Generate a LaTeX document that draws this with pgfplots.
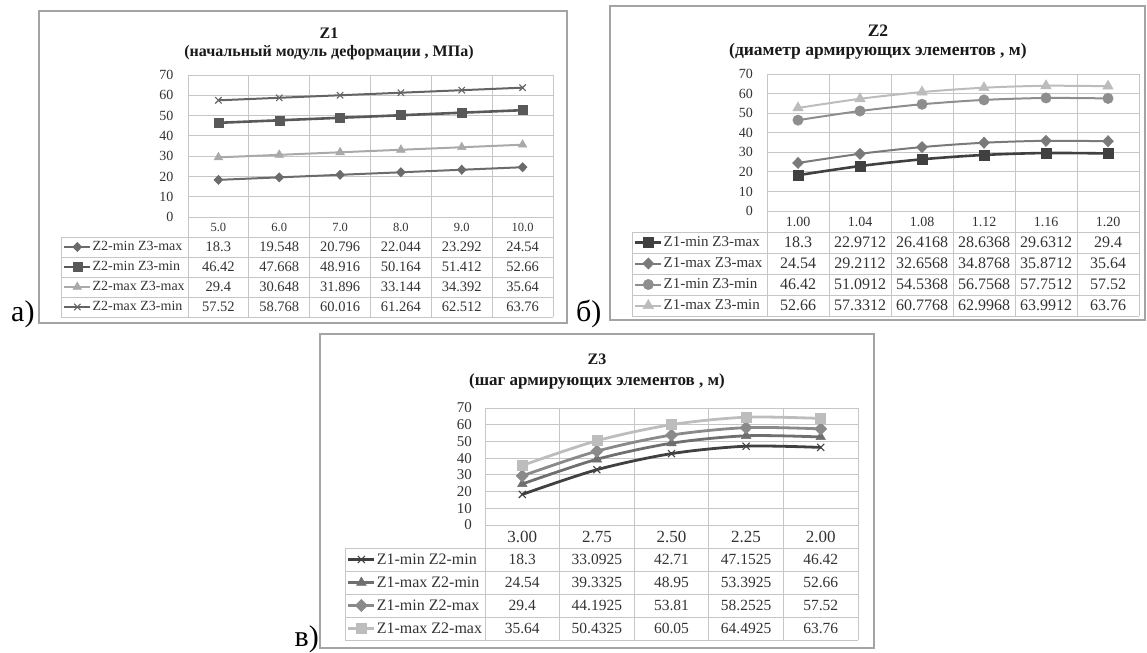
\documentclass[border=0pt]{standalone}
\usepackage{pgfplots}
\pgfplotsset{compat=1.18}
\usepackage{fontspec}
\setmainfont{Liberation Serif}
\definecolor{gridc}{HTML}{C6C6C6}
\definecolor{framec}{HTML}{A4A4A4}
\definecolor{txt}{HTML}{333333}
\definecolor{a1}{HTML}{6B6B6B}
\definecolor{a2}{HTML}{595959}
\definecolor{a3}{HTML}{A9A9A9}
\definecolor{a4}{HTML}{646464}
\definecolor{b1}{HTML}{404040}
\definecolor{b2}{HTML}{7A7A7A}
\definecolor{b3}{HTML}{8E8E8E}
\definecolor{b4}{HTML}{BCBCBC}
\definecolor{c1}{HTML}{404040}
\definecolor{c2}{HTML}{6F6F6F}
\definecolor{c3}{HTML}{8A8A8A}
\definecolor{c4}{HTML}{BDBDBD}
\newcommand{\fs}[1]{\fontsize{#1}{#1}\selectfont}
\pgfplotsset{
  legend image code/.code={\draw[mark repeat=2,mark phase=2,#1] plot coordinates {(0pt,0pt) (13pt,0pt) (26pt,0pt)};},
  tbl/.style={scale only axis, clip=false, ymin=0, ymax=70, ytick={0,10,...,70},
    ymajorgrids, xminorgrids,
    grid style={gridc, line width=0.8pt},
    minor grid style={gridc, line width=0.8pt},
    axis line style={gridc, line width=0.8pt},
    major tick length=0pt, minor tick length=0pt,
    /pgf/number format/assume math mode=true,
    yticklabel style={anchor=east, text=txt},
    legend cell align=left,
  },
}
\tikzset{frm/.style={draw=framec, line width=1.4pt}}
\begin{document}
\begin{tikzpicture}[x=1pt,y=1pt]
\path (0,0) rectangle (1147,652);
% ================= Chart a =================
\draw[frm] (39,641) rectangle (567,329);
\node[font=\bfseries\fs{16}, text=black!90] at (329,619) {Z1};
\node[font=\bfseries\fs{16}, text=black!90] at (329,599) {(начальный модуль деформации , МПа)};
\node[font=\fs{30}, anchor=base west, inner sep=0pt] at (11,330) {а)};
\begin{axis}[tbl, at={(188pt,435pt)}, anchor=south west, width=365pt, height=142pt,
  xmin=0, xmax=6, xtick={0.5,1.5,...,5.5}, minor xtick={0,1,...,6},
  xticklabels={5.0,6.0,7.0,8.0,9.0,10.0},
  yticklabel style={xshift=-11pt, font=\fs{14}},
  xticklabel style={anchor=center, yshift=-10pt, text=txt, font=\fs{12.5}},
  legend style={at={(axis description cs:-0.3425,-0.1408)}, anchor=north west, draw=none, fill=none,
    inner sep=0pt, outer sep=0pt, row sep=0pt, column sep=1pt,
    nodes={inner sep=0pt, minimum height=20pt, text=txt, font=\fs{14}}}]
\addplot[a1, line width=2pt, mark=diamond*, mark size=3.6pt, mark options={solid, xscale=1.3}]
  coordinates {(0.5,18.3) (1.5,19.548) (2.5,20.796) (3.5,22.044) (4.5,23.292) (5.5,24.54)};
\addlegendentry{Z2-min Z3-max}
\addplot[a2, line width=2.6pt, mark=square*, mark size=4.5pt, mark options={solid, line width=0.5pt}]
  coordinates {(0.5,46.42) (1.5,47.668) (2.5,48.916) (3.5,50.164) (4.5,51.412) (5.5,52.66)};
\addlegendentry{Z2-min Z3-min}
\addplot[a3, line width=2pt, mark=triangle*, mark size=5pt, mark options={solid, line width=0.5pt}]
  coordinates {(0.5,29.4) (1.5,30.648) (2.5,31.896) (3.5,33.144) (4.5,34.392) (5.5,35.64)};
\addlegendentry{Z2-max Z3-max}
\addplot[a4, line width=2pt, mark=x, mark size=4.5pt, mark options={solid, line width=1.1pt}]
  coordinates {(0.5,57.52) (1.5,58.768) (2.5,60.016) (3.5,61.264) (4.5,62.512) (5.5,63.76)};
\addlegendentry{Z2-max Z3-min}
\end{axis}
\begin{scope}[gridc, line width=0.8pt]
\foreach \yy in {415,395,375,355,335} \draw (61,\yy) -- (553,\yy);
\draw (61,415) -- (61,335);
\foreach \k in {0,...,6} \draw ({188+\k*365/6},435) -- ({188+\k*365/6},335);
\end{scope}
\begin{scope}[every node/.style={text=txt, font=\fs{14.5}}]
\foreach \v [count=\i from 0] in {18.3,19.548,20.796,22.044,23.292,24.54} \node at ({188+(\i+0.5)*365/6},405) {\v};
\foreach \v [count=\i from 0] in {46.42,47.668,48.916,50.164,51.412,52.66} \node at ({188+(\i+0.5)*365/6},385) {\v};
\foreach \v [count=\i from 0] in {29.4,30.648,31.896,33.144,34.392,35.64} \node at ({188+(\i+0.5)*365/6},365) {\v};
\foreach \v [count=\i from 0] in {57.52,58.768,60.016,61.264,62.512,63.76} \node at ({188+(\i+0.5)*365/6},345) {\v};
\end{scope}
% ================= Chart b =================
\draw[frm] (610,646) rectangle (1145,332);
\node[font=\bfseries\fs{17.5}, text=black!90] at (878,621.5) {Z2};
\node[font=\bfseries\fs{17.5}, text=black!90] at (878,601) {(диаметр армирующих элементов  , м)};
\node[font=\fs{30}, anchor=base west, inner sep=0pt] at (576,330) {б)};
\begin{axis}[tbl, at={(767pt,441pt)}, anchor=south west, width=372pt, height=137pt,
  xmin=0, xmax=6, xtick={0.5,1.5,...,5.5}, minor xtick={0,1,...,6},
  xticklabels={1.00,1.04,1.08,1.12,1.16,1.20},
  yticklabel style={xshift=-10.5pt, font=\fs{14}},
  xticklabel style={anchor=center, yshift=-10.5pt, text=txt, font=\fs{14}},
  legend style={at={(axis description cs:-0.3575,-0.1533)}, anchor=north west, draw=none, fill=none,
    inner sep=0pt, outer sep=0pt, row sep=0pt, column sep=1pt,
    nodes={inner sep=0pt, minimum height=21pt, text=txt, font=\fs{15}}}]
\addplot[b1, line width=2.6pt, smooth, mark=square*, mark size=5pt, mark options={solid, line width=0.5pt}]
  coordinates {(0.5,18.3) (1.5,22.9712) (2.5,26.4168) (3.5,28.6368) (4.5,29.6312) (5.5,29.4)};
\addlegendentry{Z1-min Z3-max}
\addplot[b2, line width=2pt, smooth, mark=diamond*, mark size=4.6pt, mark options={solid, xscale=1.3}]
  coordinates {(0.5,24.54) (1.5,29.2112) (2.5,32.6568) (3.5,34.8768) (4.5,35.8712) (5.5,35.64)};
\addlegendentry{Z1-max Z3-max}
\addplot[b3, line width=2pt, smooth, mark=*, mark size=5.2pt, mark options={solid, line width=0.5pt}]
  coordinates {(0.5,46.42) (1.5,51.0912) (2.5,54.5368) (3.5,56.7568) (4.5,57.7512) (5.5,57.52)};
\addlegendentry{Z1-min Z3-min}
\addplot[b4, line width=2pt, smooth, mark=triangle*, mark size=6pt, mark options={solid, line width=0.5pt}]
  coordinates {(0.5,52.66) (1.5,57.3312) (2.5,60.7768) (3.5,62.9968) (4.5,63.9912) (5.5,63.76)};
\addlegendentry{Z1-max Z3-min}
\end{axis}
\begin{scope}[gridc, line width=0.8pt]
\foreach \yy in {420,399,378,357,336} \draw (632,\yy) -- (1139,\yy);
\draw (632,420) -- (632,336);
\foreach \k in {0,...,6} \draw ({767+\k*372/6},441) -- ({767+\k*372/6},336);
\end{scope}
\begin{scope}[every node/.style={text=txt, font=\fs{16}}]
\foreach \v [count=\i from 0] in {18.3,22.9712,26.4168,28.6368,29.6312,29.4} \node at ({767+(\i+0.5)*372/6},409.5) {\v};
\foreach \v [count=\i from 0] in {24.54,29.2112,32.6568,34.8768,35.8712,35.64} \node at ({767+(\i+0.5)*372/6},388.5) {\v};
\foreach \v [count=\i from 0] in {46.42,51.0912,54.5368,56.7568,57.7512,57.52} \node at ({767+(\i+0.5)*372/6},367.5) {\v};
\foreach \v [count=\i from 0] in {52.66,57.3312,60.7768,62.9968,63.9912,63.76} \node at ({767+(\i+0.5)*372/6},346.5) {\v};
\end{scope}
% ================= Chart c =================
\draw[frm] (320,318) rectangle (874,4);
\node[font=\bfseries\fs{16}, text=black!90] at (597,293) {Z3};
\node[font=\bfseries\fs{17}, text=black!90] at (597,271) {(шаг армирующих элементов  , м)};
\node[font=\fs{30}, anchor=base east, inner sep=0pt] at (319,6) {в)};
\begin{axis}[tbl, at={(485pt,127pt)}, anchor=south west, width=373pt, height=117pt,
  xmin=0, xmax=5, xtick={0.5,1.5,...,4.5}, minor xtick={0,1,...,5},
  xticklabels={3.00,2.75,2.50,2.25,2.00},
  yticklabel style={xshift=-9.5pt, font=\fs{15}},
  xticklabel style={anchor=center, yshift=-11.5pt, text=txt, font=\fs{17}},
  legend style={at={(axis description cs:-0.37,-0.1966)}, anchor=north west, draw=none, fill=none,
    inner sep=0pt, outer sep=0pt, row sep=0pt, column sep=1pt,
    nodes={inner sep=0pt, minimum height=23pt, text=txt, font=\fs{16}}}]
\addplot[c1, line width=2.8pt, smooth, mark=x, mark size=5pt, mark options={solid, line width=1.1pt}]
  coordinates {(0.5,18.3) (1.5,33.0925) (2.5,42.71) (3.5,47.1525) (4.5,46.42)};
\addlegendentry{Z1-min Z2-min}
\addplot[c2, line width=2.8pt, smooth, mark=triangle*, mark size=5.5pt, mark options={solid, line width=0.5pt}]
  coordinates {(0.5,24.54) (1.5,39.3325) (2.5,48.95) (3.5,53.3925) (4.5,52.66)};
\addlegendentry{Z1-max Z2-min}
\addplot[c3, line width=2.8pt, smooth, mark=diamond*, mark size=4.6pt, mark options={solid, xscale=1.3}]
  coordinates {(0.5,29.4) (1.5,44.1925) (2.5,53.81) (3.5,58.2525) (4.5,57.52)};
\addlegendentry{Z1-min Z2-max}
\addplot[c4, line width=2.8pt, smooth, mark=square*, mark size=5pt, mark options={solid, line width=0.5pt}]
  coordinates {(0.5,35.64) (1.5,50.4325) (2.5,60.05) (3.5,64.4925) (4.5,63.76)};
\addlegendentry{Z1-max Z2-max}
\end{axis}
\begin{scope}[gridc, line width=0.8pt]
\foreach \yy in {104,81,58,35,12} \draw (345,\yy) -- (858,\yy);
\draw (345,104) -- (345,12);
\foreach \k in {0,...,5} \draw ({485+\k*373/5},127) -- ({485+\k*373/5},12);
\end{scope}
\begin{scope}[every node/.style={text=txt, font=\fs{15.5}}]
\foreach \v [count=\i from 0] in {18.3,33.0925,42.71,47.1525,46.42} \node at ({485+(\i+0.5)*373/5},92.5) {\v};
\foreach \v [count=\i from 0] in {24.54,39.3325,48.95,53.3925,52.66} \node at ({485+(\i+0.5)*373/5},69.5) {\v};
\foreach \v [count=\i from 0] in {29.4,44.1925,53.81,58.2525,57.52} \node at ({485+(\i+0.5)*373/5},46.5) {\v};
\foreach \v [count=\i from 0] in {35.64,50.4325,60.05,64.4925,63.76} \node at ({485+(\i+0.5)*373/5},23.5) {\v};
\end{scope}
\end{tikzpicture}
\end{document}
